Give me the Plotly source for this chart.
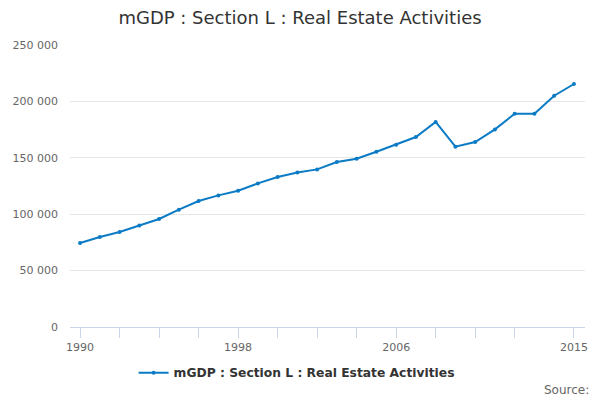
import plotly.graph_objects as go

years = list(range(1990, 2016))
values = [74470, 79790, 84220, 90070, 95740, 103990, 111700, 116670, 120830, 127300,
          132980, 137050, 139720, 146280, 149200, 155410, 161610, 168440, 181740, 159840,
          164000, 175180, 189100, 189100, 205050, 215420]

tick_years = [1990, 1992, 1994, 1996, 1998, 2000, 2002, 2004, 2006, 2008, 2010, 2012, 2015]
labelled = [1990, 1998, 2006, 2015]
tick_text = [str(y) if y in labelled else "" for y in tick_years]

series_name = "mGDP : Section L : Real Estate Activities"
line_color = "#0a7bc4"

fig = go.Figure()
fig.add_trace(go.Scatter(
    x=years, y=values, mode="lines+markers", name=series_name,
    line=dict(color=line_color, width=2),
    marker=dict(color=line_color, size=4),
))

fig.update_layout(
    width=600, height=400,
    paper_bgcolor="white", plot_bgcolor="white",
    font=dict(family="DejaVu Sans", color="#666666", size=11),
    separators=". ",
    title=dict(text="mGDP : Section L : Real Estate Activities", x=0.5, xanchor="center",
               y=0.955, yanchor="middle", font=dict(size=18, color="#333333")),
    margin=dict(l=70, r=15, t=45, b=73),
    showlegend=True,
    legend=dict(orientation="h", x=0.44, xanchor="center", y=-0.162, yanchor="middle",
                font=dict(size=12.3, color="#333333", weight="bold"), itemwidth=30),
    annotations=[dict(text="Source:", xref="paper", yref="paper", x=1.0, y=-0.225,
                      xanchor="right", yanchor="middle", showarrow=False, xshift=6,
                      font=dict(size=12, color="#666666"))],
)
fig.update_xaxes(
    range=[1989.49, 2015.56], tickvals=tick_years, ticktext=tick_text,
    showgrid=False, showline=True, linecolor="#ccd6eb", linewidth=1,
    ticks="outside", ticklen=10, tickcolor="#ccd6eb", zeroline=False,
    automargin=False,
)
fig.update_yaxes(
    range=[0, 250000], dtick=50000, tickformat=",d",
    showgrid=True, gridcolor="#e6e6e6", zeroline=False, showline=False,
    ticklabelstandoff=11, automargin=False,
)

fig.write_html("out.html", config={"displayModeBar": False},
               post_script="document.body.style.margin='0';")
